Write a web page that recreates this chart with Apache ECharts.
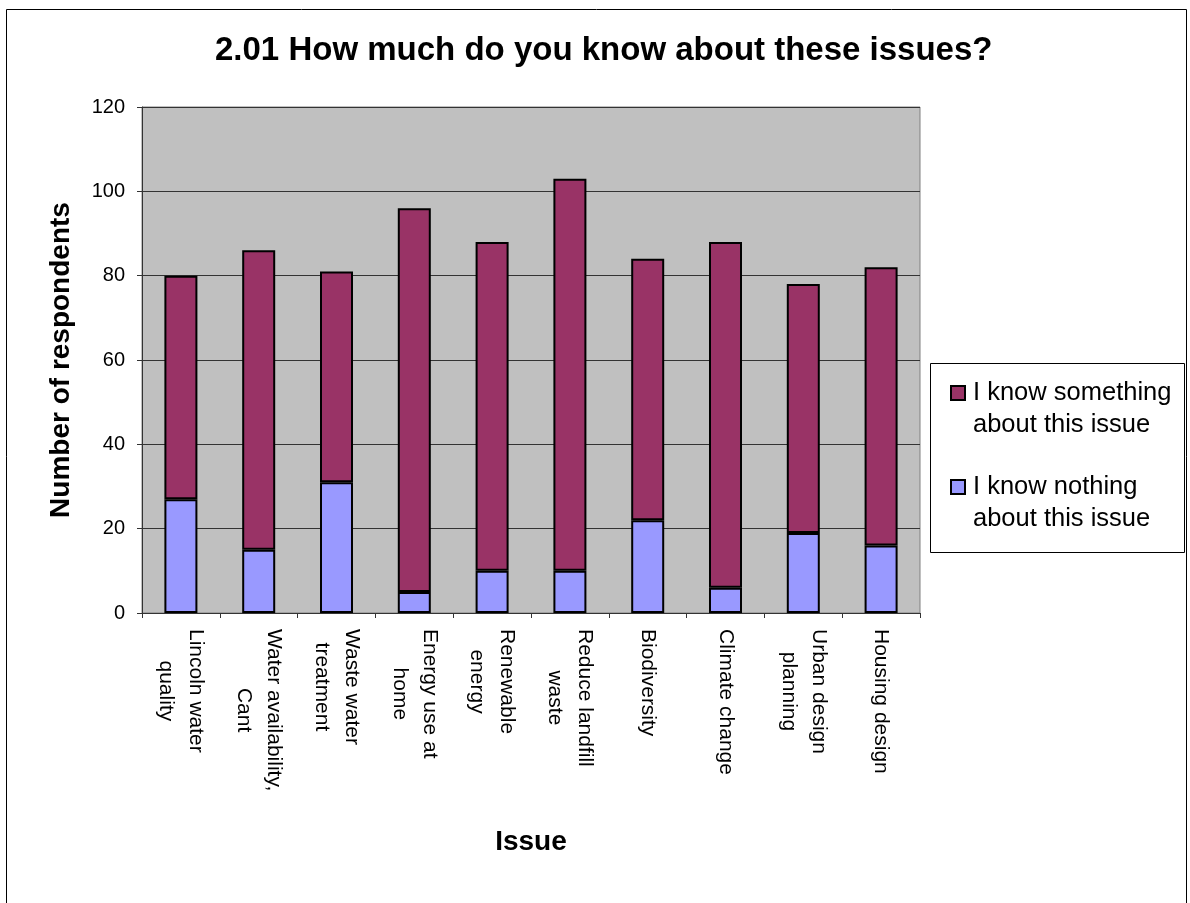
<!DOCTYPE html>
<html>
<head>
<meta charset="utf-8">
<script src="https://cdn.jsdelivr.net/npm/echarts@6/dist/echarts.min.js"></script>
<style>
html,body{margin:0;padding:0;background:#fff;}
#chart{width:1190px;height:903px;}
</style>
</head>
<body>
<div id="chart"></div>
<script>
var categories = [
  "Lincoln water\nquality",
  "Water availability,\nCant",
  "Waste water\ntreatment",
  "Energy use at\nhome",
  "Renewable\nenergy",
  "Reduce landfill\nwaste",
  "Biodiversity",
  "Climate change",
  "Urban design\nplanning",
  "Housing design"
];
var knowNothing = [27, 15, 31, 5, 10, 10, 22, 6, 19, 16];
var knowSomething = [53, 71, 50, 91, 78, 93, 62, 82, 59, 66];
var seriesNames = ["I know something\nabout this issue", "I know nothing\nabout this issue"];
var yTicks = [0, 20, 40, 60, 80, 100, 120];

var FONT = "'Liberation Sans', Arial, sans-serif";
var chart = echarts.init(document.getElementById('chart'), null, {renderer: 'canvas'});

var option = {
  backgroundColor: '#ffffff',
  animation: false,
  title: {
    text: '2.01 How much do you know about these issues?',
    left: 215,
    top: 34,
    padding: 0,
    textStyle: {fontFamily: FONT, fontSize: 33, fontWeight: 'bold', color: '#000'}
  },
  graphic: [
    {type: 'rect', shape: {x: 6.5, y: 9.5, width: 1180, height: 900},
     style: {fill: 'none', stroke: '#000', lineWidth: 1}, silent: true},
    {type: 'rect', shape: {x: 930.5, y: 363.5, width: 254, height: 189},
     style: {fill: 'none', stroke: '#000', lineWidth: 1}, silent: true}
  ],
  legend: {
    orient: 'vertical',
    left: 945,
    top: 340,
    itemWidth: 14,
    itemHeight: 14,
    itemGap: -2,
    icon: 'rect',
    data: seriesNames,
    formatter: function (name) { return '\n' + name; },
    textStyle: {fontFamily: FONT, fontSize: 25.5, color: '#000', lineHeight: 32, padding: [0, 0, 0, 3]}
  },
  grid: {left: 142, right: 270, top: 107, bottom: 290, show: true,
         backgroundColor: '#C0C0C0', borderColor: '#808080', borderWidth: 1},
  xAxis: {
    type: 'category',
    data: categories,
    name: 'Issue',
    nameLocation: 'middle',
    nameGap: 215,
    nameTextStyle: {fontFamily: FONT, fontSize: 28, fontWeight: 'bold', color: '#000'},
    axisLine: {lineStyle: {color: '#333', width: 1}},
    axisTick: {show: true, length: 5, lineStyle: {color: '#333'}},
    axisLabel: {
      interval: 0,
      rotate: -90,
      margin: 16,
      fontFamily: FONT,
      fontSize: 21,
      lineHeight: 30,
      color: '#000',
      formatter: function (v) {
        return v.split('\n').map(function (s) { return '{c|' + s + '}'; }).join('\n');
      },
      rich: {c: {align: 'center', fontFamily: FONT, fontSize: 21, lineHeight: 30, color: '#000'}}
    }
  },
  yAxis: {
    type: 'value',
    min: yTicks[0],
    max: yTicks[yTicks.length - 1],
    interval: yTicks[1] - yTicks[0],
    name: 'Number of respondents',
    nameLocation: 'middle',
    nameGap: 67,
    nameTextStyle: {fontFamily: FONT, fontSize: 28, fontWeight: 'bold', color: '#000'},
    axisLine: {show: true, lineStyle: {color: '#333', width: 1}},
    axisTick: {show: true, length: 5, lineStyle: {color: '#333'}},
    axisLabel: {fontFamily: FONT, fontSize: 20, color: '#000', margin: 17},
    splitLine: {show: true, lineStyle: {color: '#333', width: 1}}
  },
  series: [
    {
      name: seriesNames[1],
      type: 'bar',
      stack: 'total',
      data: knowNothing,
      barWidth: 33,
      itemStyle: {color: '#9999FF', borderColor: '#000', borderWidth: 2}
    },
    {
      name: seriesNames[0],
      type: 'bar',
      stack: 'total',
      data: knowSomething,
      barWidth: 33,
      itemStyle: {color: '#993366', borderColor: '#000', borderWidth: 2}
    }
  ]
};
chart.setOption(option);
</script>
</body>
</html>
